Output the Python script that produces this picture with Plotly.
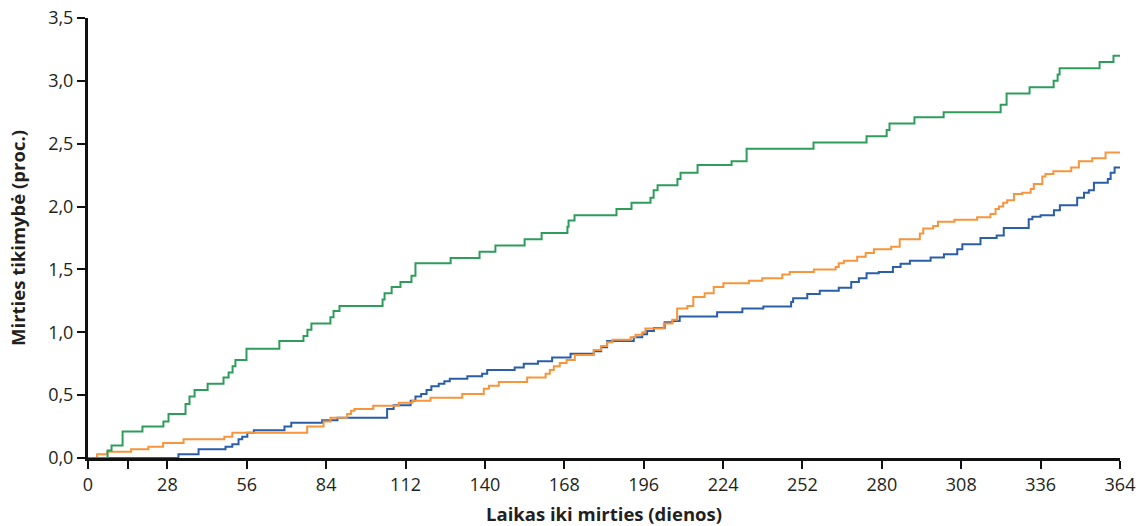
import plotly.graph_objects as go

# ---- data ----
green_days = [6.9, 8.3, 12.2, 19.2, 26.6, 28.4, 34.4, 35.8, 37.6, 42.2, 47.8, 49.6, 51.0, 52.0, 55.9,
              67.5, 76.0, 77.4, 78.8, 85.5, 86.6, 88.7, 103.9, 104.6, 107.1, 110.2, 114.1, 115.5,
              127.9, 138.1, 143.7, 154.0, 160.0, 169.1, 169.5, 171.6, 186.4, 191.7, 198.4, 199.5,
              200.9, 207.9, 209.0, 215.0, 227.0, 232.3, 255.9, 274.6, 281.7, 282.7, 291.5, 301.8,
              321.9, 324.0, 332.1, 340.6, 342.0, 342.7, 356.8, 361.7]
green_vals = [0.06, 0.10, 0.21, 0.25, 0.29, 0.35, 0.43, 0.49, 0.54, 0.59, 0.64, 0.68, 0.73, 0.78, 0.87,
              0.93, 0.97, 1.02, 1.07, 1.12, 1.17, 1.21, 1.26, 1.31, 1.36, 1.40, 1.45, 1.55,
              1.59, 1.64, 1.69, 1.74, 1.79, 1.84, 1.89, 1.93, 1.98, 2.03, 2.07, 2.13,
              2.17, 2.22, 2.27, 2.33, 2.36, 2.46, 2.51, 2.56, 2.61, 2.66, 2.71, 2.75,
              2.81, 2.90, 2.95, 3.00, 3.05, 3.10, 3.15, 3.20]

orange_days = [3.2, 6.8, 15.2, 21.3, 26.5, 33.7, 48.1, 50.9, 77.3, 83.1, 85.5, 91.4, 92.8, 94.0,
               100.6, 109.6, 114.4, 120.8, 132.0, 139.6, 141.4, 144.9, 154.9, 161.4, 162.9, 164.3,
               166.4, 168.8, 171.7, 178.4, 181.0, 183.1, 185.0, 191.4, 193.1, 195.5, 196.6, 203.1,
               206.1, 207.8, 211.4, 213.5, 217.5, 220.7, 224.1, 233.1, 237.8, 244.9, 247.5, 256.0,
               263.7, 264.8, 266.6, 271.3, 274.3, 277.2, 283.3, 286.3, 293.4, 294.6, 298.1, 299.8,
               305.6, 313.6, 318.3, 320.1, 321.3, 322.8, 324.2, 326.6, 329.5, 332.5, 333.6, 336.6,
               337.7, 340.5, 346.8, 349.5, 354.2, 358.9]
orange_vals = [0.03, 0.05, 0.07, 0.09, 0.12, 0.15, 0.17, 0.20, 0.25, 0.29, 0.32, 0.35, 0.375, 0.39,
               0.415, 0.44, 0.455, 0.48, 0.51, 0.55, 0.575, 0.605, 0.64, 0.67, 0.70, 0.73,
               0.755, 0.78, 0.82, 0.86, 0.89, 0.92, 0.94, 0.96, 0.98, 1.00, 1.03, 1.07,
               1.10, 1.19, 1.21, 1.28, 1.31, 1.36, 1.39, 1.41, 1.43, 1.46, 1.48, 1.50,
               1.52, 1.55, 1.57, 1.60, 1.63, 1.66, 1.68, 1.74, 1.785, 1.825, 1.845, 1.88,
               1.895, 1.915, 1.94, 1.98, 2.00, 2.03, 2.05, 2.10, 2.11, 2.14, 2.18, 2.24,
               2.26, 2.28, 2.31, 2.36, 2.385, 2.43]

blue_days = [31.9, 39.0, 48.5, 50.9, 53.1, 54.4, 56.2, 58.5, 69.3, 71.7, 82.6, 88.0, 105.5, 107.8,
             113.8, 115.5, 117.5, 119.4, 121.1, 123.7, 125.7, 127.6, 133.8, 139.0, 140.8, 150.5,
             153.7, 158.7, 163.7, 170.2, 178.4, 181.0, 183.1, 192.5, 195.5, 197.2, 199.6, 203.4,
             206.1, 208.7, 221.9, 230.8, 238.2, 248.0, 248.7, 253.7, 258.1, 264.8, 269.2, 271.9,
             274.6, 278.9, 283.9, 286.6, 289.9, 297.2, 301.9, 306.6, 308.4, 314.8, 320.5, 323.0,
             331.8, 333.1, 336.0, 340.7, 342.8, 348.9, 351.3, 353.0, 354.8, 359.7, 360.7, 362.1]
blue_vals = [0.03, 0.07, 0.09, 0.11, 0.15, 0.17, 0.20, 0.22, 0.25, 0.28, 0.30, 0.32, 0.39, 0.42,
             0.455, 0.49, 0.51, 0.54, 0.57, 0.59, 0.61, 0.63, 0.65, 0.67, 0.70, 0.72,
             0.75, 0.77, 0.80, 0.83, 0.85, 0.88, 0.93, 0.96, 0.985, 1.01, 1.035, 1.08,
             1.09, 1.125, 1.16, 1.19, 1.205, 1.24, 1.27, 1.305, 1.33, 1.355, 1.40, 1.43,
             1.47, 1.48, 1.52, 1.545, 1.57, 1.595, 1.62, 1.66, 1.70, 1.75, 1.77, 1.83,
             1.90, 1.92, 1.93, 1.97, 2.01, 2.07, 2.11, 2.13, 2.19, 2.22, 2.27, 2.31]

end_day = 364

x_tick_vals = [0, 14, 28, 56, 84, 112, 140, 168, 196, 224, 252, 280, 308, 336, 364]
x_tick_text = ["0", "", "28", "56", "84", "112", "140", "168", "196", "224", "252", "280", "308", "336", "364"]
y_tick_vals = [0, 0.5, 1.0, 1.5, 2.0, 2.5, 3.0, 3.5]
y_tick_text = ["0,0", "0,5", "1,0", "1,5", "2,0", "2,5", "3,0", "3,5"]

x_title = "Laikas iki mirties (dienos)"
y_title = "Mirties tikimybė (proc.)"

series = [
    ("blue", blue_days, blue_vals, "#2a5ea9"),
    ("orange", orange_days, orange_vals, "#f7953d"),
    ("green", green_days, green_vals, "#2e9d5c"),
]

fig = go.Figure()
for name, d, v, col in series:
    xs = [0] + list(d) + [end_day]
    ys = [0] + list(v) + [v[-1]]
    fig.add_trace(go.Scatter(x=xs, y=ys, mode="lines", line_shape="hv",
                             line=dict(color=col, width=2), name=name,
                             showlegend=False, hoverinfo="skip"))

font_family = "Open Sans, Noto Sans, sans-serif"
fig.update_layout(
    width=1146, height=526,
    margin=dict(l=88, r=26, t=18, b=68, autoexpand=False),
    paper_bgcolor="white", plot_bgcolor="white",
    font=dict(family=font_family, size=18, color="#231f20"),
    xaxis=dict(range=[0, 364], tickmode="array", tickvals=x_tick_vals, ticktext=x_tick_text,
               showgrid=False, zeroline=False, showline=True, linecolor="#111", linewidth=3,
               ticks="outside", ticklen=8, tickwidth=2, tickcolor="#111", automargin=False,
               title=dict(text="<b>" + x_title + "</b>", font=dict(size=18.5), standoff=14)),
    yaxis=dict(range=[0, 3.5], tickmode="array", tickvals=y_tick_vals, ticktext=y_tick_text,
               showgrid=False, zeroline=False, showline=True, linecolor="#111", linewidth=3,
               ticks="outside", ticklen=8, tickwidth=2, tickcolor="#111", automargin=False,
               title=dict(text="<b>" + y_title + "</b>", font=dict(size=18.5), standoff=18)),
)

fig.write_html("out.html", config={"displayModeBar": False},
               post_script="document.body.style.margin='0';document.body.style.overflow='hidden';")
